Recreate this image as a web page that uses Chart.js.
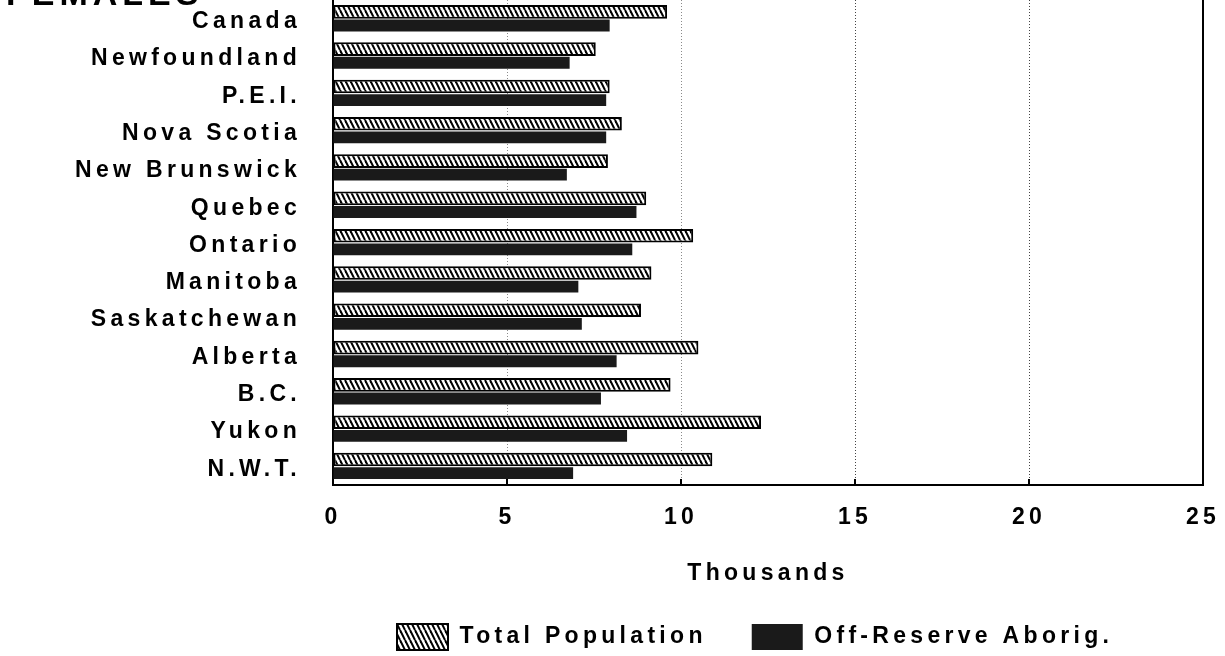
<!DOCTYPE html>
<html><head><meta charset="utf-8">
<script src="https://cdn.jsdelivr.net/npm/chart.js@4.4.0/dist/chart.umd.min.js"></script>
<style>
html,body{margin:0;padding:0;background:#fff;overflow:hidden;width:1225px;height:656px;}
#wrap{position:absolute;left:0;top:-40px;width:1225px;height:710px;}
canvas{display:block;}
</style></head><body>
<div id="wrap"><canvas id="c" width="1225" height="710"></canvas></div>
<script>
const categories = ['Canada','Newfoundland','P.E.I.','Nova Scotia','New Brunswick','Quebec','Ontario','Manitoba','Saskatchewan','Alberta','B.C.','Yukon','N.W.T.'];
const totalPopulation = [9.6, 7.55, 7.95, 8.3, 7.9, 9.0, 10.35, 9.15, 8.85, 10.5, 9.7, 12.3, 10.9];
const offReserveAborig = [7.95, 6.8, 7.85, 7.85, 6.72, 8.72, 8.6, 7.05, 7.15, 8.15, 7.7, 8.45, 6.9];
const xTicks = [0, 5, 10, 15, 20, 25];
const seriesNames = ['Total Population', 'Off-Reserve Aborig.'];
const chartTitle = 'FEMALES';
const xAxisTitle = 'Thousands';

const FONT = "'Liberation Sans', Arial, Helvetica, sans-serif";
const SPACING = '4.3px';

function makeHatch() {
  const w = 5, h = 10;
  const c = document.createElement('canvas');
  c.width = w; c.height = h;
  const g = c.getContext('2d');
  g.fillStyle = '#fff'; g.fillRect(0, 0, w, h);
  g.strokeStyle = '#000'; g.lineWidth = 2;
  for (const x0 of [-w, 0, w]) {
    g.beginPath(); g.moveTo(x0, 0); g.lineTo(x0 + w, h); g.stroke();
  }
  return g.createPattern(c, 'repeat');
}
const hatch = makeHatch();

const deco = {
  id: 'deco',
  beforeLayout(chart) { chart.ctx.letterSpacing = SPACING; },
  afterLayout(chart) {
    const lg = chart.legend, a = chart.chartArea;
    if (lg) { lg.left = 352; lg.right = a.right; lg.width = lg.right - lg.left; }
  },
  beforeDraw(chart) { chart.ctx.letterSpacing = SPACING; },
  afterDraw(chart) {
    const {ctx, chartArea: a, scales: {x}} = chart;
    ctx.save();
    ctx.strokeStyle = '#000';
    ctx.lineWidth = 2;
    ctx.beginPath(); ctx.moveTo(a.right, a.top); ctx.lineTo(a.right, a.bottom); ctx.stroke();
    x.ticks.forEach(t => {
      const px = x.getPixelForValue(t.value);
      ctx.beginPath(); ctx.moveTo(px, a.bottom); ctx.lineTo(px, a.bottom - 6); ctx.stroke();
    });
    ctx.letterSpacing = '5px';
    ctx.font = 'bold 34px ' + FONT;
    ctx.fillStyle = '#000';
    ctx.textAlign = 'left';
    ctx.textBaseline = 'alphabetic';
    ctx.fillText(chartTitle, 6, a.top + 5);
    ctx.restore();
  }
};

Chart.defaults.font.family = FONT;
Chart.defaults.color = '#000';

function gridColor(c) {
  if (!c.tick) return '#444';
  const v = c.tick.value;
  if (v === 0 || v === 25) return 'rgba(0,0,0,0)';
  return v < 12 ? '#8a8a8a' : '#444';
}

new Chart(document.getElementById('c'), {
  type: 'bar',
  data: {
    labels: categories,
    datasets: [
      { label: seriesNames[0], data: totalPopulation, backgroundColor: hatch, borderColor: '#000', borderWidth: 2, borderSkipped: false, barPercentage: 1.0, categoryPercentage: 0.73 },
      { label: seriesNames[1], data: offReserveAborig, backgroundColor: '#1a1a1a', borderColor: '#1a1a1a', borderWidth: 0, barPercentage: 0.87, categoryPercentage: 0.73 }
    ]
  },
  options: {
    indexAxis: 'y',
    responsive: false,
    animation: false,
    layout: { padding: { top: 40, left: 0, right: 22, bottom: 10 } },
    plugins: {
      tooltip: { enabled: false },
      legend: {
        position: 'bottom',
        align: 'start',
        labels: {
          font: { size: 23, weight: 'bold' },
          color: '#000',
          boxWidth: 51,
          boxHeight: 26,
          padding: 45
        }
      }
    },
    scales: {
      x: {
        type: 'linear',
        position: 'bottom',
        min: 0, max: 25,
        afterBuildTicks: s => { s.ticks = xTicks.map(v => ({ value: v })); },
        afterFit: s => { s.height = 94; s.paddingLeft = 0; s.paddingRight = 0; },
        ticks: { font: { size: 23, weight: 'bold' }, color: '#000', padding: 19, maxRotation: 0, autoSkip: false },
        grid: {
          color: gridColor,
          lineWidth: 1,
          drawTicks: false
        },
        border: { display: true, color: '#000', width: 2, dash: [1, 2] },
        title: { display: true, text: xAxisTitle, font: { size: 23, weight: 'bold', lineHeight: 0.45 }, color: '#000', padding: { top: 0, bottom: 0 } }
      },
      y: {
        type: 'category',
        offset: true,
        afterFit: s => { s.width = 333; s.paddingTop = 0; s.paddingBottom = 0; },
        ticks: { font: { size: 23, weight: 'bold' }, color: '#000', padding: 32, labelOffset: 3, autoSkip: false },
        grid: { display: false, drawTicks: false },
        border: { display: true, color: '#000', width: 2 }
      }
    }
  },
  plugins: [deco]
});
</script>
</body></html>
